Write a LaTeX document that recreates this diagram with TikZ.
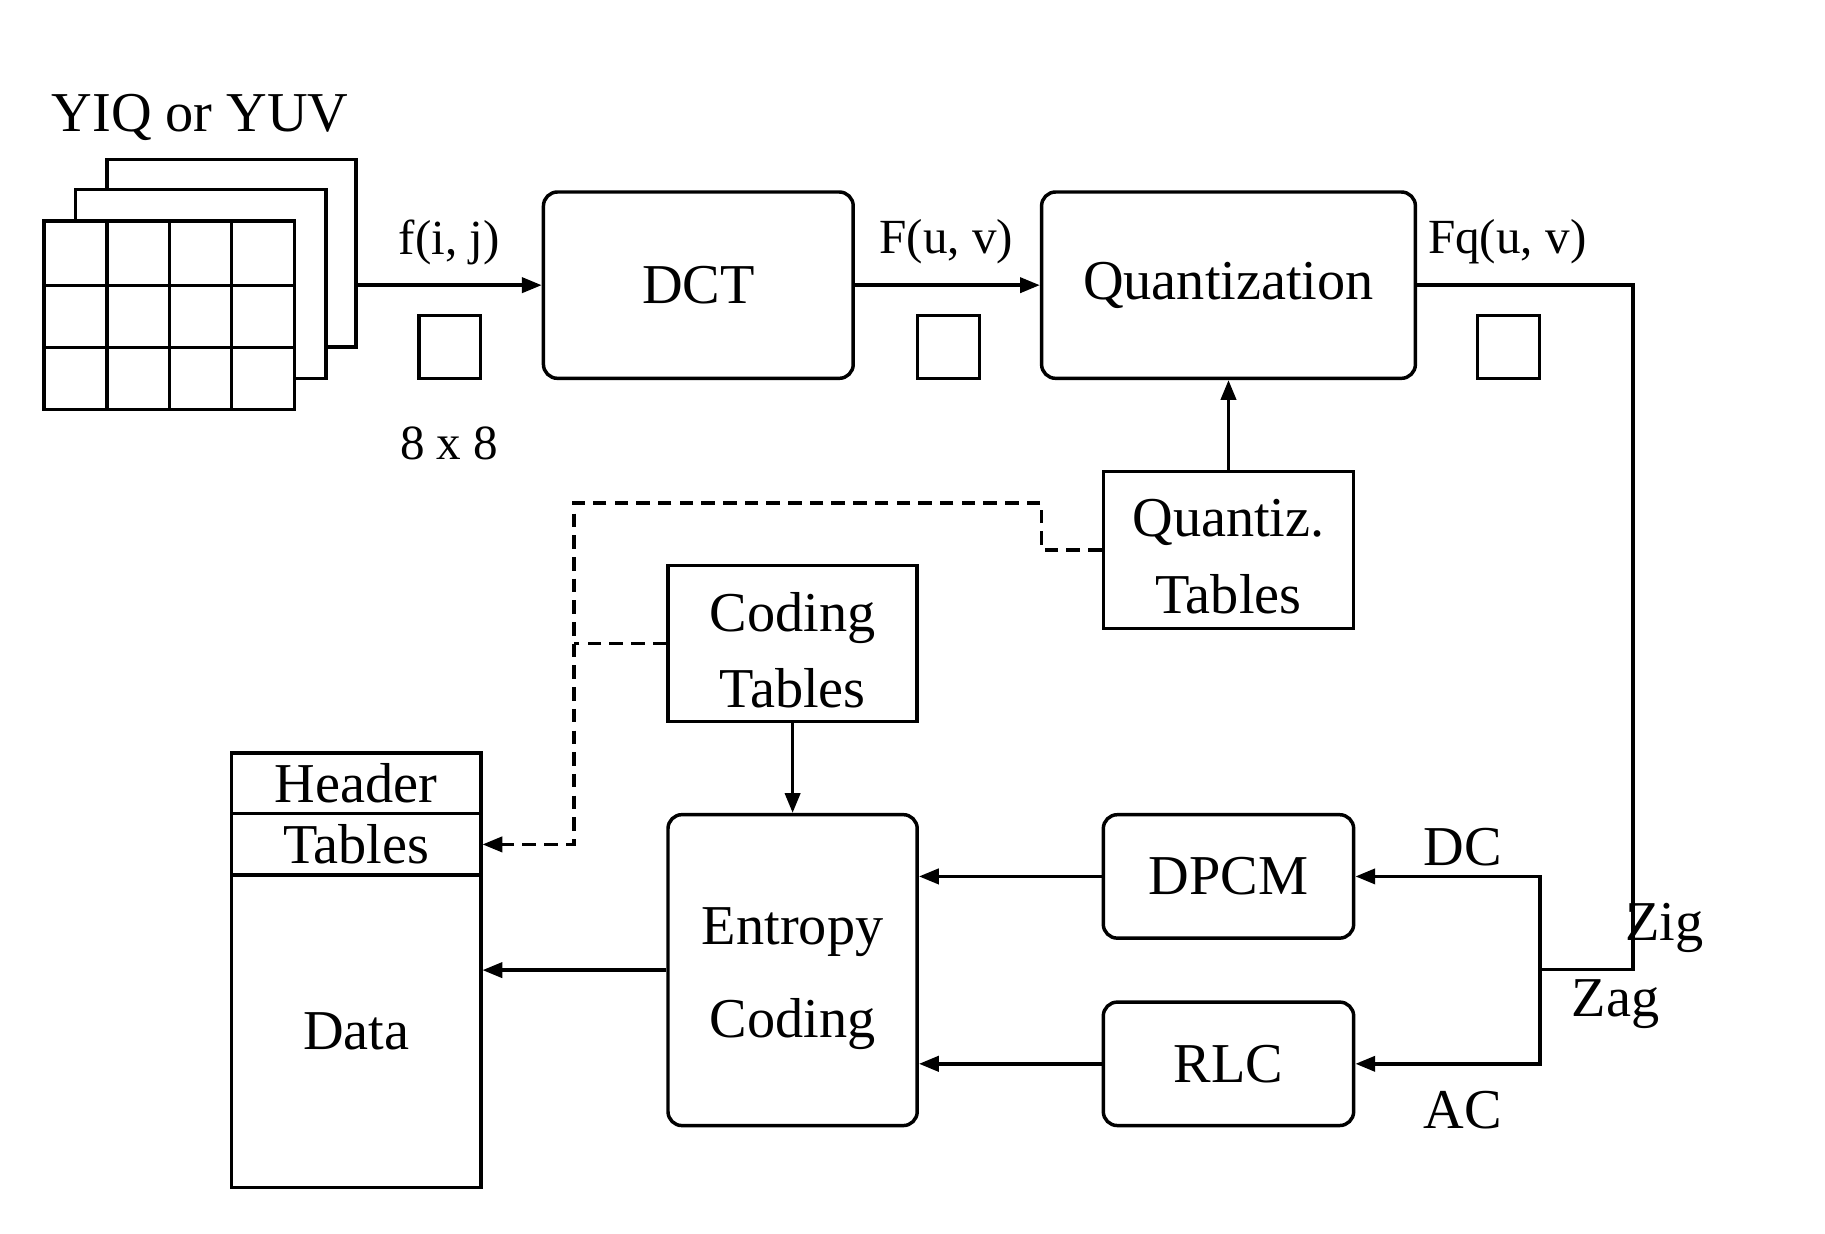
\documentclass[tikz,border=0pt]{standalone}
\usepackage{fontspec}
\setmainfont{Liberation Serif}
\usetikzlibrary{arrows.meta}
\newcommand{\twolines}[4]{\raisebox{0pt}[\dimexpr\height+#4\relax][\dimexpr\depth-#4\relax]{\begin{tabular}{@{}c@{}}#1\\[#3]#2\end{tabular}}}
\begin{document}
\begin{tikzpicture}[x=0.01cm,y=-0.01cm,
  every path/.style={line width=0.85pt},
  mainfont/.style={font=\fontsize{13.75}{18.8}\selectfont},
  lblfont/.style={font=\fontsize{12}{14}\selectfont},
  sqbox/.style={draw,rectangle,inner sep=0pt},
  rbox/.style={draw,rectangle,rounded corners=0.12cm,inner sep=0pt,align=center,mainfont},
  pbox/.style={draw,rectangle,inner sep=0pt,align=center,mainfont},
  arr/.style={-{Triangle[length=1.7mm,width=1.3mm]}},
  dsh/.style={dash pattern=on 3.3pt off 2pt}]
\useasboundingbox (0,0) rectangle (1568,1060);
% image planes
\node[sqbox,fill=white,minimum width=2.14cm,minimum height=1.61cm] (planeC) at (199,217.5) {};
\node[sqbox,fill=white,minimum width=2.15cm,minimum height=1.62cm] (planeB) at (172.5,244) {};
\node[sqbox,fill=white,minimum width=2.15cm,minimum height=1.62cm] (planeA) at (145.5,271) {};
\draw (planeA.west |- 0,245.5) -- (planeA.east |- 0,245.5);
\draw (planeA.west |- 0,298.5) -- (planeA.east |- 0,298.5);
\draw (92,190) -- (92,352);
\draw (145.5,190) -- (145.5,352);
\draw (199,190) -- (199,352);
\node[mainfont] (yiq) at (172,101) {YIQ or YUV};
% top row
\node[rbox,minimum width=2.66cm,minimum height=1.60cm] (dct) at (600,245) {DCT};
\node[rbox,minimum width=3.21cm,minimum height=1.60cm] (quant) at (1055.5,245) {Quantization};
\node[sqbox,minimum width=0.53cm,minimum height=0.54cm] (sqA) at (386.5,298) {};
\node[sqbox,minimum width=0.53cm,minimum height=0.54cm] (sqB) at (815,298) {};
\node[sqbox,minimum width=0.53cm,minimum height=0.54cm] (sqC) at (1296,298) {};
\node[lblfont] (lf) at (386,208) {f(i, j)};
\node[lblfont] (lF) at (813,208) {F(u, v)};
\node[lblfont] (lFq) at (1295,208) {Fq(u, v)};
\node[lblfont] (l88) at (386,381) {8 x 8};
% tables
\node[pbox,minimum width=2.15cm,minimum height=1.35cm] (qt) at (1055.5,472.5) {\twolines{Quantiz.}{Tables}{0pt}{0.085cm}};
\node[pbox,minimum width=2.14cm,minimum height=1.34cm] (ct) at (681,553) {\twolines{Coding}{Tables}{0pt}{0.09cm}};
% entropy coding etc
\node[rbox,minimum width=2.14cm,minimum height=2.67cm] (ec) at (681,833.5) {\twolines{Entropy}{Coding}{4pt}{0.05cm}};
\node[rbox,minimum width=2.15cm,minimum height=1.06cm] (dpcm) at (1055.5,753) {DPCM};
\node[rbox,minimum width=2.15cm,minimum height=1.06cm] (rlc) at (1055.5,914) {RLC};
% output stream
\node[pbox,minimum width=2.14cm,minimum height=0.52cm] (hdr) at (306,673) {Header};
\node[pbox,minimum width=2.14cm,minimum height=0.53cm] (tbl) at (306,725.5) {Tables};
\node[pbox,minimum width=2.14cm,minimum height=2.68cm] (data) at (306,886) {Data};
% labels
\node[mainfont] (ldc) at (1257,728) {DC};
\node[mainfont] (lac) at (1257,954) {AC};
\node[mainfont] (lzig) at (1430,797) {Zig};
\node[mainfont] (lzag) at (1388,863) {Zag};
% coordinates
\coordinate (zig) at (1403,833);
\coordinate (split) at (1323,833);
\coordinate (dA) at (895,432);
\coordinate (dB) at (493,432);
% connectors
\draw[arr] (planeC.east |- dct.west) -- (dct.west);
\draw[arr] (dct.east) -- (quant.west);
\draw (quant.east) -| (zig) -- (split);
\draw[arr] (split) |- (dpcm.east);
\draw[arr] (split) |- (rlc.east);
\draw[arr] (qt) -- (quant);
\draw[arr,dsh] (qt.west) -| (dA) -- (dB) |- (tbl.east);
\draw[dsh] (ct.west) -- (ct.west -| dB);
\draw[arr] (ct) -- (ec);
\draw[arr] (ec.west) -- (ec.west -| data.east);
\draw[arr] (dpcm.west) -- (dpcm.west -| ec.east);
\draw[arr] (rlc.west) -- (rlc.west -| ec.east);
\end{tikzpicture}
\end{document}
